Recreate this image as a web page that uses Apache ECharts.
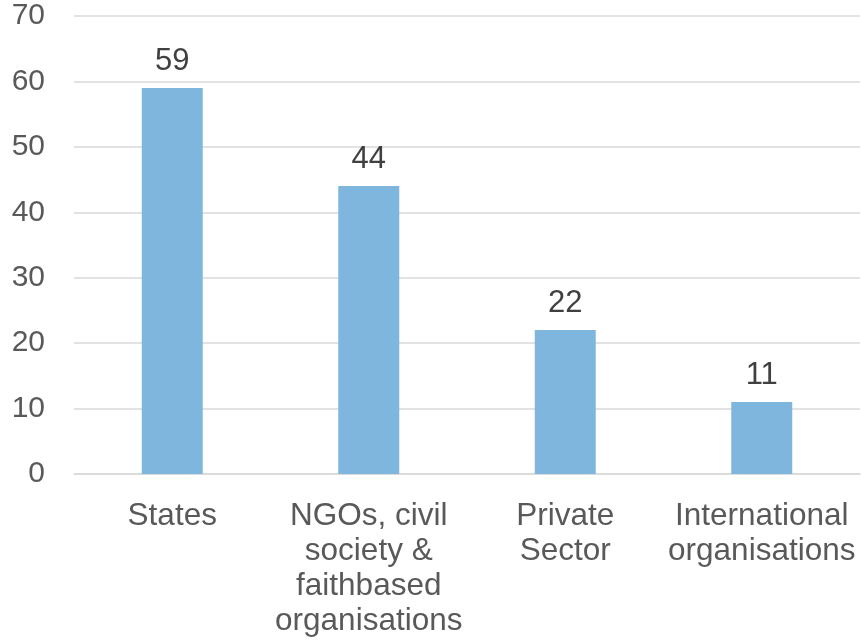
<!DOCTYPE html>
<html>
<head>
<meta charset="utf-8">
<script src="https://cdn.jsdelivr.net/npm/echarts@6/dist/echarts.min.js"></script>
<style>
html,body{margin:0;padding:0;background:#fff;}
#chart{width:861px;height:643px;}
</style>
</head>
<body>
<div id="chart"></div>
<script>
const categories = ["States", "NGOs, civil\nsociety &\nfaithbased\norganisations", "Private\nSector", "International\norganisations"];
const values = [59, 44, 22, 11];
const yTicks = { min: 0, max: 70, interval: 10 };

const chart = echarts.init(document.getElementById('chart'), null, { renderer: 'canvas' });
const font = 'Liberation Sans, Arial, sans-serif';
chart.setOption({
  animation: false,
  grid: { left: 74, right: 1, top: 16, bottom: 169 },
  xAxis: {
    type: 'category',
    data: categories,
    axisLine: { show: true, lineStyle: { color: '#D9D9D9', width: 1.5 } },
    axisTick: { show: false },
    axisLabel: { color: '#595959', fontFamily: font, fontSize: 31.5, lineHeight: 35, margin: 25, interval: 0 }
  },
  yAxis: {
    type: 'value',
    min: yTicks.min, max: yTicks.max, interval: yTicks.interval,
    axisLine: { show: false },
    axisTick: { show: false },
    splitLine: { lineStyle: { color: '#D9D9D9', width: 1.5 } },
    axisLabel: { color: '#595959', fontFamily: font, fontSize: 30, margin: 29 }
  },
  series: [{
    type: 'bar',
    data: values,
    barWidth: 61,
    itemStyle: { color: '#7EB6DE' },
    label: { show: true, position: 'top', distance: 11, color: '#404040', fontFamily: font, fontSize: 31 }
  }]
});
</script>
</body>
</html>
